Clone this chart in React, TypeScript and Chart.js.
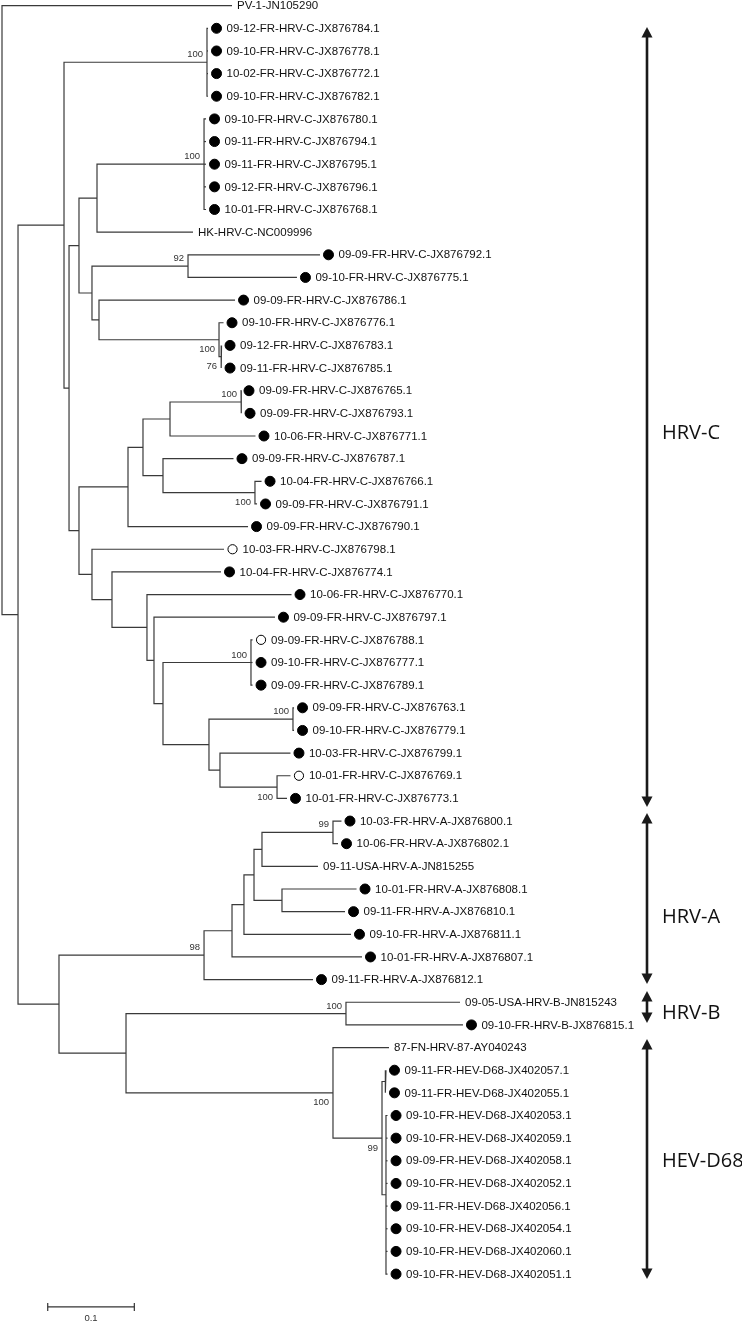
import React, { useEffect, useRef } from 'react';
import { Chart, registerables } from 'chart.js';

Chart.register(...registerables);

const W = 742;
const H = 1321;

// ---------- leaves (top to bottom) ----------
const leafNames = [
  'PV-1-JN105290',
  '09-12-FR-HRV-C-JX876784.1', '09-10-FR-HRV-C-JX876778.1', '10-02-FR-HRV-C-JX876772.1', '09-10-FR-HRV-C-JX876782.1',
  '09-10-FR-HRV-C-JX876780.1', '09-11-FR-HRV-C-JX876794.1', '09-11-FR-HRV-C-JX876795.1', '09-12-FR-HRV-C-JX876796.1',
  '10-01-FR-HRV-C-JX876768.1', 'HK-HRV-C-NC009996',
  '09-09-FR-HRV-C-JX876792.1', '09-10-FR-HRV-C-JX876775.1', '09-09-FR-HRV-C-JX876786.1',
  '09-10-FR-HRV-C-JX876776.1', '09-12-FR-HRV-C-JX876783.1', '09-11-FR-HRV-C-JX876785.1',
  '09-09-FR-HRV-C-JX876765.1', '09-09-FR-HRV-C-JX876793.1', '10-06-FR-HRV-C-JX876771.1',
  '09-09-FR-HRV-C-JX876787.1', '10-04-FR-HRV-C-JX876766.1', '09-09-FR-HRV-C-JX876791.1',
  '09-09-FR-HRV-C-JX876790.1', '10-03-FR-HRV-C-JX876798.1', '10-04-FR-HRV-C-JX876774.1',
  '10-06-FR-HRV-C-JX876770.1', '09-09-FR-HRV-C-JX876797.1', '09-09-FR-HRV-C-JX876788.1',
  '09-10-FR-HRV-C-JX876777.1', '09-09-FR-HRV-C-JX876789.1', '09-09-FR-HRV-C-JX876763.1',
  '09-10-FR-HRV-C-JX876779.1', '10-03-FR-HRV-C-JX876799.1', '10-01-FR-HRV-C-JX876769.1',
  '10-01-FR-HRV-C-JX876773.1',
  '10-03-FR-HRV-A-JX876800.1', '10-06-FR-HRV-A-JX876802.1', '09-11-USA-HRV-A-JN815255',
  '10-01-FR-HRV-A-JX876808.1', '09-11-FR-HRV-A-JX876810.1', '09-10-FR-HRV-A-JX876811.1',
  '10-01-FR-HRV-A-JX876807.1', '09-11-FR-HRV-A-JX876812.1',
  '09-05-USA-HRV-B-JN815243', '09-10-FR-HRV-B-JX876815.1',
  '87-FN-HRV-87-AY040243',
  '09-11-FR-HEV-D68-JX402057.1', '09-11-FR-HEV-D68-JX402055.1', '09-10-FR-HEV-D68-JX402053.1',
  '09-10-FR-HEV-D68-JX402059.1', '09-09-FR-HEV-D68-JX402058.1', '09-10-FR-HEV-D68-JX402052.1',
  '09-11-FR-HEV-D68-JX402056.1', '09-10-FR-HEV-D68-JX402054.1', '09-10-FR-HEV-D68-JX402060.1',
  '09-10-FR-HEV-D68-JX402051.1',
];

// f = filled circle, o = open circle, - = no marker
const leafMarkers = [
  '-',
  'f', 'f', 'f', 'f',
  'f', 'f', 'f', 'f', 'f', '-',
  'f', 'f', 'f', 'f', 'f', 'f',
  'f', 'f', 'f', 'f', 'f', 'f',
  'f', 'o', 'f', 'f', 'f', 'o',
  'f', 'f', 'f', 'f', 'f', 'o', 'f',
  'f', 'f', '-', 'f', 'f', 'f', 'f', 'f',
  '-', 'f',
  '-',
  'f', 'f', 'f', 'f', 'f', 'f', 'f', 'f', 'f', 'f',
];

// distance from root (substitutions/site)
const leafDepths = [
  0.2656,
  0.2379, 0.2379, 0.2379, 0.2379,
  0.2356, 0.2356, 0.2356, 0.2356, 0.2356, 0.2206,
  0.3672, 0.3406, 0.2691, 0.2558, 0.2535, 0.2535,
  0.2754, 0.2766, 0.2927, 0.2673, 0.2997, 0.2945,
  0.2841, 0.2564, 0.2529, 0.3343, 0.3152, 0.2893,
  0.2893, 0.2893, 0.3372, 0.3372, 0.3331, 0.3331, 0.3291,
  0.3920, 0.3880, 0.3649, 0.4094, 0.3961, 0.4030, 0.4157, 0.3591,
  0.5289, 0.5323,
  0.4469,
  0.4434, 0.4434, 0.4452, 0.4452, 0.4452, 0.4452, 0.4452, 0.4452, 0.4452, 0.4452,
];

// ---------- internal nodes ----------
const nodeIds = [
  'root', 'Nmain', 'C', 'C1', 'C2', 'C2a', 'C2a1', 'C2a1a', 'C2a2', 'N92', 'C2a2b', 'N776', 'N76',
  'C2b', 'C2b1', 'C2b1a', 'C2b1a1', 'N765', 'C2b1a2', 'N766', 'C2b2', 'C2b2b', 'C2b2b2', 'C2b2b2b',
  'C2b2b2b2', 'N788', 'N209', 'N763', 'N220', 'N769',
  'ABD', 'A', 'A1', 'A2', 'A3', 'A4', 'N800', 'N808', 'BD', 'B', 'D', 'N99', 'N057', 'N053',
];
const nodeDepths = [
  0, 0.0185, 0.0716, 0.2367, 0.0774, 0.0889, 0.1097, 0.2333, 0.1039, 0.2148, 0.1120, 0.2506, 0.2529,
  0.0889, 0.1455, 0.1628, 0.1940, 0.2760, 0.1859, 0.2921, 0.1039, 0.1270, 0.1674, 0.1755,
  0.1859, 0.2875, 0.2390, 0.3360, 0.2517, 0.3176,
  0.0658, 0.2333, 0.2656, 0.2794, 0.2910, 0.3002, 0.3822, 0.3233, 0.1432, 0.3972, 0.3822, 0.4388, 0.4423, 0.4434,
];
const nodeChildren: (string | number)[][] = [
  [0, 'Nmain'], ['C', 'ABD'], ['C1', 'C2'], [1, 2, 3, 4], ['C2a', 'C2b'], ['C2a1', 'C2a2'],
  ['C2a1a', 10], [5, 6, 7, 8, 9], ['N92', 'C2a2b'], [11, 12], [13, 'N776'], [14, 'N76'], [15, 16],
  ['C2b1', 'C2b2'], ['C2b1a', 23], ['C2b1a1', 'C2b1a2'], ['N765', 19], [17, 18], [20, 'N766'], [21, 22],
  [24, 'C2b2b'], [25, 'C2b2b2'], [26, 'C2b2b2b'], [27, 'C2b2b2b2'],
  ['N788', 'N209'], [28, 29, 30], ['N763', 'N220'], [31, 32], [33, 'N769'], [34, 35],
  ['A', 'BD'], ['A1', 43], ['A2', 42], ['A3', 41], ['A4', 'N808'], ['N800', 38], [36, 37], [39, 40],
  ['B', 'D'], [44, 45], [46, 'N99'], ['N057', 'N053'], [47, 48], [49, 50, 51, 52, 53, 54, 55, 56],
];

// ---------- bootstrap support ----------
const supportNodes = ['C1', 'C2a1a', 'N92', 'N776', 'N76', 'N765', 'N766', 'N788', 'N763', 'N769', 'N800', 'A', 'B', 'D', 'N99'];
const supportValues = ['100', '100', '92', '100', '76', '100', '100', '100', '100', '100', '99', '98', '100', '100', '99'];
const supportBelow = [false, false, false, true, true, false, true, false, false, true, false, false, false, true, true];

// ---------- clade brackets (in leaf rows) ----------
const cladeNames = ['HRV-C', 'HRV-A', 'HRV-B', 'HEV-D68'];
const cladeStart = [0.94, 35.65, 43.5, 45.62];
const cladeEnd = [35.38, 43.19, 44.92, 56.22];
const cladeLabelRow = [18.9, 40.24, 44.5, 51.0];

const scaleBarValue = 0.1;
const scaleBarLabel = '0.1';

// ---------- layout ----------
const X_MIN = -0.00231;
const X_MAX = 0.8545;
const Y_MIN = -0.2494;
const Y_MAX = 58.073;
const BRACKET_X = 0.7448;
const BRACKET_LABEL_X = 0.7621;
const SCALE_X0 = 0.0528;
const SCALE_ROW = 57.45;
const MARKER_GAP_PX = 8.5;

const nodeIndex = new Map(nodeIds.map((id, i) => [id, i]));
function refX(r: string | number): number {
  return typeof r === 'number' ? leafDepths[r] : nodeDepths[nodeIndex.get(r) as number];
}
function refY(r: string | number): number {
  if (typeof r === 'number') return r;
  const kids = nodeChildren[nodeIndex.get(r) as number];
  return (refY(kids[0]) + refY(kids[kids.length - 1])) / 2;
}

const LINE = '#3a3a3a';

function buildDatasets() {
  const sets: any[] = [];
  const lineStyle = {
    showLine: true,
    borderColor: LINE,
    borderWidth: 1.2,
    pointRadius: 0,
    fill: false,
    tension: 0,
    clip: false,
  };
  nodeIds.forEach((id, i) => {
    const kids = nodeChildren[i];
    const nx = nodeDepths[i];
    const first = kids[0];
    const last = kids[kids.length - 1];
    sets.push({
      ...lineStyle,
      data: [
        { x: refX(first), y: refY(first) },
        { x: nx, y: refY(first) },
        { x: nx, y: refY(last) },
        { x: refX(last), y: refY(last) },
      ],
    });
    kids.slice(1, -1).forEach((k) => {
      sets.push({
        ...lineStyle,
        data: [
          { x: nx, y: refY(k) },
          { x: refX(k), y: refY(k) },
        ],
      });
    });
  });
  const unitsPerPx = (X_MAX - X_MIN) / W;
  const markerData: any[] = [];
  const markerFill: string[] = [];
  const markerRadius: number[] = [];
  leafMarkers.forEach((m, i) => {
    if (m === '-') return;
    markerData.push({ x: leafDepths[i] + MARKER_GAP_PX * unitsPerPx, y: i });
    markerFill.push(m === 'f' ? '#000000' : '#ffffff');
    markerRadius.push(m === 'f' ? 5 : 4.6);
  });
  sets.push({
    data: markerData,
    showLine: false,
    pointRadius: markerRadius,
    pointBackgroundColor: markerFill,
    pointBorderColor: '#000000',
    pointBorderWidth: 1,
    pointStyle: 'circle',
    clip: false,
  });
  // scale bar
  sets.push({
    ...lineStyle,
    borderColor: '#333',
    data: [
      { x: SCALE_X0, y: SCALE_ROW },
      { x: SCALE_X0 + scaleBarValue, y: SCALE_ROW },
    ],
  });
  return sets;
}

const textPlugin = {
  id: 'treeText',
  afterDatasetsDraw(chart: any) {
    const { ctx, scales } = chart;
    const xs = scales.x;
    const ys = scales.y;
    ctx.save();
    // leaf labels
    ctx.font = '11.5px "Liberation Sans", Arial, sans-serif';
    ctx.fillStyle = '#111111';
    ctx.textAlign = 'left';
    ctx.textBaseline = 'middle';
    leafNames.forEach((name, i) => {
      const px = xs.getPixelForValue(leafDepths[i]) + (leafMarkers[i] === '-' ? 5 : 18.5);
      ctx.fillText(name, px, ys.getPixelForValue(i) + 0.5);
    });
    // bootstrap values
    ctx.font = '9.5px "Liberation Sans", Arial, sans-serif';
    ctx.fillStyle = '#333333';
    ctx.textAlign = 'right';
    supportNodes.forEach((id, k) => {
      const px = xs.getPixelForValue(refX(id)) - 4;
      const py = ys.getPixelForValue(refY(id)) + (supportBelow[k] ? 10 : -7.5);
      ctx.fillText(supportValues[k], px, py);
    });
    // scale bar ticks and label
    const sx0 = xs.getPixelForValue(SCALE_X0);
    const sx1 = xs.getPixelForValue(SCALE_X0 + scaleBarValue);
    const sy = ys.getPixelForValue(SCALE_ROW);
    ctx.strokeStyle = '#333';
    ctx.lineWidth = 1.2;
    ctx.beginPath();
    ctx.moveTo(sx0, sy - 4);
    ctx.lineTo(sx0, sy + 4);
    ctx.moveTo(sx1, sy - 4);
    ctx.lineTo(sx1, sy + 4);
    ctx.stroke();
    ctx.textAlign = 'center';
    ctx.fillText(scaleBarLabel, (sx0 + sx1) / 2, sy + 11);
    // clade brackets
    const bx = xs.getPixelForValue(BRACKET_X);
    const lx = xs.getPixelForValue(BRACKET_LABEL_X);
    ctx.strokeStyle = '#1a1a1a';
    ctx.fillStyle = '#1a1a1a';
    cladeNames.forEach((name, k) => {
      const y0 = ys.getPixelForValue(cladeStart[k]);
      const y1 = ys.getPixelForValue(cladeEnd[k]);
      const ah = 10.5;
      const aw = 5.5;
      ctx.lineWidth = 2.6;
      ctx.beginPath();
      ctx.moveTo(bx, y0 + ah - 1);
      ctx.lineTo(bx, y1 - ah + 1);
      ctx.stroke();
      ctx.beginPath();
      ctx.moveTo(bx, y0);
      ctx.lineTo(bx - aw, y0 + ah);
      ctx.lineTo(bx + aw, y0 + ah);
      ctx.closePath();
      ctx.fill();
      ctx.beginPath();
      ctx.moveTo(bx, y1);
      ctx.lineTo(bx - aw, y1 - ah);
      ctx.lineTo(bx + aw, y1 - ah);
      ctx.closePath();
      ctx.fill();
      ctx.font = '20px "Open Sans", "Noto Sans", sans-serif';
      ctx.textAlign = 'left';
      ctx.textBaseline = 'middle';
      ctx.fillStyle = '#111111';
      ctx.fillText(name, lx, ys.getPixelForValue(cladeLabelRow[k]));
      ctx.fillStyle = '#1a1a1a';
    });
    ctx.restore();
  },
};

export default function App() {
  const canvasRef = useRef<HTMLCanvasElement | null>(null);
  useEffect(() => {
    const canvas = canvasRef.current;
    if (!canvas) return;
    const chart = new Chart(canvas, {
      type: 'scatter',
      data: { datasets: buildDatasets() },
      options: {
        responsive: false,
        maintainAspectRatio: false,
        animation: false,
        devicePixelRatio: 1,
        events: [],
        layout: { padding: 0, autoPadding: false },
        plugins: {
          legend: { display: false },
          tooltip: { enabled: false },
          title: { display: false },
        },
        scales: {
          x: { type: 'linear', min: X_MIN, max: X_MAX, display: false },
          y: { type: 'linear', min: Y_MIN, max: Y_MAX, reverse: true, display: false },
        },
      } as any,
      plugins: [textPlugin],
    });
    return () => chart.destroy();
  }, []);
  return (
    <div style={{ position: 'fixed', left: 0, top: 0, width: W, height: H, background: '#ffffff' }}>
      <canvas ref={canvasRef} width={W} height={H} style={{ display: 'block', width: W, height: H }} />
    </div>
  );
}
